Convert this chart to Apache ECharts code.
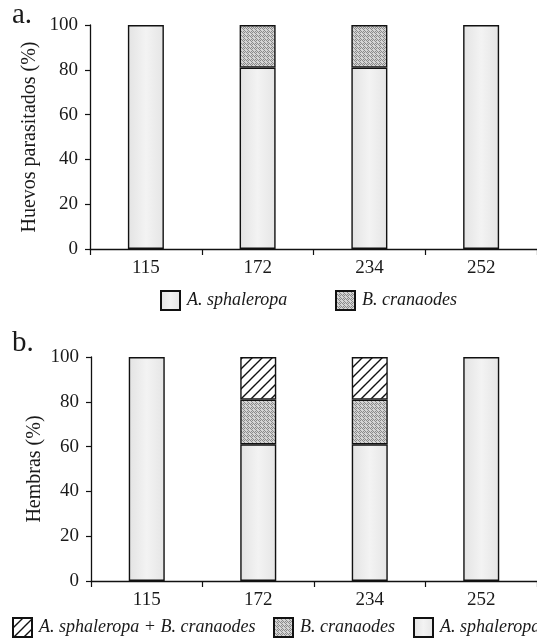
<!DOCTYPE html>
<html>
<head>
<meta charset="utf-8">
<script src="https://cdn.jsdelivr.net/npm/echarts@6/dist/echarts.min.js"></script>
<style>
html,body{margin:0;padding:0;background:#fff;}
#c{width:537px;height:640px;}
</style>
</head>
<body>
<div id="c"></div>
<script>
// ---- data ----
var categories = ['115', '172', '234', '252'];
// panel a: Huevos parasitados (%)
var aSphaleropaA = [100, 81, 81, 100];
var bCranaodesA = [0, 19, 19, 0];
// panel b: Hembras (%)
var aSphaleropaB = [100, 61, 61, 100];
var bCranaodesB = [0, 20, 20, 0];
var bothB = [0, 19, 19, 0];
var yTicks = [0, 20, 40, 60, 80, 100];

var N_A = 'A. sphaleropa';
var N_B = 'B. cranaodes';
var N_AB = 'A. sphaleropa + B. cranaodes';

// ---- patterns ----
function hatchCanvas() {
  var c = document.createElement('canvas'); c.width = 10; c.height = 10;
  var g = c.getContext('2d');
  g.fillStyle = '#fff'; g.fillRect(0, 0, 10, 10);
  g.strokeStyle = '#111'; g.lineWidth = 1.4;
  g.beginPath();
  g.moveTo(-2, 12); g.lineTo(12, -2);
  g.moveTo(-7, 7); g.lineTo(7, -7);
  g.moveTo(3, 17); g.lineTo(17, 3);
  g.stroke();
  return c;
}
function stippleCanvas() {
  var c = document.createElement('canvas'); c.width = 4; c.height = 4;
  var g = c.getContext('2d');
  g.fillStyle = '#d4d4d4'; g.fillRect(0, 0, 4, 4);
  g.fillStyle = '#8a8a8a';
  [[0,0],[2,0],[1,1],[3,1],[0,2],[2,2],[1,3],[3,3]].forEach(function(p, i){
    if (i % 3 !== 2) g.fillRect(p[0], p[1], 1, 1);
  });
  return c;
}
var hatch = { image: hatchCanvas(), repeat: 'repeat' };
var stipple = { image: stippleCanvas(), repeat: 'repeat' };
var light = {
  type: 'linear', x: 0, y: 0, x2: 1, y2: 0,
  colorStops: [{offset: 0, color: '#e3e3e3'}, {offset: 0.5, color: '#f3f3f3'}, {offset: 1, color: '#e5e5e5'}]
};

var serif = '"Liberation Serif", "DejaVu Serif", serif';
var border = { borderColor: '#111', borderWidth: 1.4 };

function xAx(gi) {
  return {
    type: 'category', gridIndex: gi, data: categories,
    axisLine: { lineStyle: { color: '#111', width: 1.3 } },
    axisTick: { show: true, length: 6, lineStyle: { color: '#111', width: 1.2 } },
    axisLabel: { color: '#1a1a1a', fontFamily: serif, fontSize: 19, margin: 10 }
  };
}
function yAx(gi, name, gap) {
  return {
    type: 'value', gridIndex: gi, min: 0, max: 100, interval: 20,
    name: name, nameLocation: 'middle', nameRotate: 90, nameGap: gap,
    nameMoveOverlap: false,
    nameTextStyle: { color: '#1a1a1a', fontFamily: serif, fontSize: 20 },
    axisLine: { show: true, lineStyle: { color: '#111', width: 1.3 } },
    axisTick: { show: true, length: 5, lineStyle: { color: '#111', width: 1.2 } },
    axisLabel: { color: '#1a1a1a', fontFamily: serif, fontSize: 19, margin: 12,
      formatter: function (v) { return yTicks.indexOf(v) >= 0 ? String(v) : ''; } },
    splitLine: { show: false }
  };
}
function bar(name, data, gi, stack, color) {
  return {
    name: name, type: 'bar', xAxisIndex: gi, yAxisIndex: gi, stack: stack,
    barWidth: 36,
    data: data.map(function (v) { return v === 0 ? '-' : v; }),
    itemStyle: Object.assign({ color: color }, border),
    emphasis: { disabled: true }
  };
}
function leg(name, left, top) {
  return {
    data: [name], left: left, top: top, padding: 0, itemWidth: 19, itemHeight: 19, itemGap: 0,
    icon: 'rect', selectedMode: false,
    textStyle: { fontFamily: serif, fontStyle: 'italic', fontSize: 18, color: '#1a1a1a', padding: [0, 0, 0, 2] }
  };
}

var chart = echarts.init(document.getElementById('c'), null, { renderer: 'canvas' });
chart.setOption({
  backgroundColor: '#ffffff',
  animation: false,
  grid: [
    { left: 90, top: 25, width: 452, height: 224 },
    { left: 91, top: 357, width: 452, height: 224 }
  ],
  xAxis: [xAx(0), xAx(1)],
  yAxis: [yAx(0, 'Huevos parasitados (%)', 50), yAx(1, 'Hembras (%)', 46)],
  legend: [
    leg(N_A, 160, 290),
    leg(N_B, 335, 290),
    leg(N_AB, 12, 617),
    leg(N_B, 273, 617),
    leg(N_A, 413, 617)
  ],
  graphic: [
    { type: 'text', left: 12, top: 1, style: { text: 'a.', fontFamily: serif, fontSize: 29, fill: '#1a1a1a' } },
    { type: 'text', left: 12, top: 329, style: { text: 'b.', fontFamily: serif, fontSize: 29, fill: '#1a1a1a' } }
  ],
  series: [
    bar(N_A, aSphaleropaA, 0, 'a', light),
    bar(N_B, bCranaodesA, 0, 'a', stipple),
    bar(N_A, aSphaleropaB, 1, 'b', light),
    bar(N_B, bCranaodesB, 1, 'b', stipple),
    bar(N_AB, bothB, 1, 'b', hatch)
  ]
});
</script>
</body>
</html>
